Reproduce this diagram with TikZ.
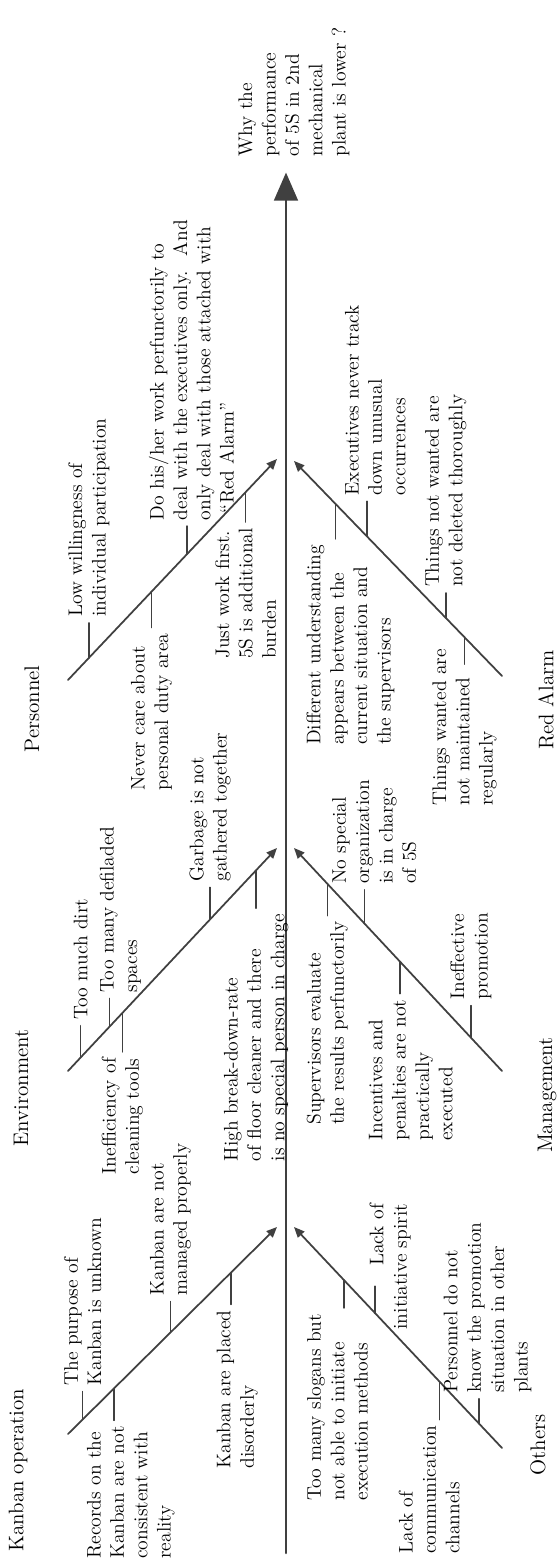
\documentclass[tikz,border=0pt]{standalone}
\usepackage{fontspec}
\usetikzlibrary{arrows.meta}

\begin{document}
\begin{tikzpicture}[x=0.02cm, y=0.02cm, rotate=90, transform shape,
  line cap=round, line join=round,
  spine/.style={draw=black!75, line width=1.5pt, -{Triangle[length=16pt,width=13.5pt]}},
  bone/.style={draw=black!75, line width=1pt, -{Triangle[length=6pt,width=5pt]}},
  tick/.style={draw=black!75, line width=0.8pt},
  cause/.style={align=left, inner sep=3pt, font=\fontsize{11.2}{13.3}\selectfont},
  group/.style={font=\fontsize{12}{14}\selectfont}]

\useasboundingbox (0,0) rectangle (1565,557);

% spine and effect
\coordinate (tail) at (12,271);
\node[cause, anchor=west] (why) at (1403,263) {Why the\\performance\\of 5S in 2nd\\mechanical\\plant is lower ?};
\draw[spine, shorten >=6pt] (tail) -- (tail -| why.west);

%---------------------------------------------------------------------------------------------------
% Kanban operation
\coordinate (kt) at (131,489);
\coordinate (kj) at (338,280);
\node[group] (kanban) at (95,539) {Kanban operation};
\draw[bone] (kt) -- (kj) coordinate[pos=.07] (k1) coordinate[pos=.22] (k2)
                          coordinate[pos=.49] (k3) coordinate[pos=.78] (k4);
\draw[tick] (k1) -- ++(28,0) node[cause, anchor=west] (kb1) {The purpose of\\Kanban is unknown};
\draw[tick] (k2) -- ++(-32,0) node[cause, anchor=east, yshift=-9.6pt] (kb2) {Records on the\\Kanban are not\\consistent with\\reality};
\draw[tick] (k3) -- ++(31,0) node[cause, anchor=west] (kb3) {Kanban are not\\managed properly};
\draw[tick] (k4) -- ++(-32,0) node[cause, anchor=east, yshift=-3.6pt] (kb4) {Kanban are placed\\disorderly};

% Others
\coordinate (ot) at (117,55);
\coordinate (oj) at (338,263);
\node[group] (others) at (120,19) {Others};
\draw[bone] (ot) -- (oj) coordinate[pos=.11] (o1) coordinate[pos=.30] (o2)
                          coordinate[pos=.61] (o3) coordinate[pos=.76] (o4);
\draw[tick] (o1) -- ++(25,0) node[cause, anchor=west, yshift=-4.8pt] (ob1) {Personnel do not\\know the promotion\\situation in other\\plants};
\draw[tick] (o2) -- ++(-38,0) node[cause, anchor=east, yshift=6pt] (ob2) {Lack of\\communication\\channels};
\draw[tick] (o3) -- ++(27,0) node[cause, align=right, anchor=west, xshift=-28pt, yshift=-8.5pt] (ob3) {Lack of\\initiative spirit};
\draw[tick] (o4) -- ++(-28,0) node[cause, anchor=east, yshift=3.6pt] (ob4) {Too many slogans but\\not able to initiate\\execution methods};

%---------------------------------------------------------------------------------------------------
% Environment
\coordinate (et) at (494,489);
\coordinate (ej) at (717,280);
\node[group] (env) at (477,536) {Environment};
\draw[bone] (et) -- (ej) coordinate[pos=.06] (e1) coordinate[pos=.20] (e2)
                          coordinate[pos=.26] (e3) coordinate[pos=.68] (e4) coordinate[pos=.90] (e5);
\draw[tick] (e1) -- ++(32,0) node[cause, anchor=west] (eb1) {Too much dirt};
\draw[tick] (e2) -- ++(28,0) node[cause, anchor=west, yshift=-6pt] (eb2) {Too many defiladed\\spaces};
\draw[tick] (e3) -- ++(-39,0) node[cause, anchor=east] (eb3) {Inefficiency of\\cleaning tools};
\draw[tick] (e4) -- ++(32,0) node[cause, anchor=west] (eb4) {Garbage is not\\gathered together};
\draw[tick] (e5) -- ++(-38,0) node[cause, anchor=east] (eb5) {High break-down-rate\\of floor cleaner and there\\is no special person in charge};

% Management
\coordinate (mt) at (494,55);
\coordinate (mj) at (717,263);
\node[group] (mgmt) at (470,10) {Management};
\draw[bone] (mt) -- (mj) coordinate[pos=.15] (m1) coordinate[pos=.49] (m2)
                          coordinate[pos=.66] (m3) coordinate[pos=.84] (m4);
\draw[tick] (m1) -- ++(32,0) node[cause, anchor=west] (mb1) {Ineffective\\promotion};
\draw[tick] (m2) -- ++(-32,0) node[cause, anchor=east, yshift=-6pt] (mb2) {Incentives and\\penalties are not\\practically\\executed};
\draw[tick] (m3) -- ++(34,0) node[cause, anchor=west, yshift=-5.4pt] (mb3) {No special\\organization\\is in charge\\of 5S};
\draw[tick] (m4) -- ++(-32,0) node[cause, anchor=east] (mb4) {Supervisors evaluate\\the results perfunctorily};

%---------------------------------------------------------------------------------------------------
% Personnel
\coordinate (pt) at (885,489);
\coordinate (pj) at (1106,280);
\node[group] (pers) at (856,525) {Personnel};
\draw[bone] (pt) -- (pj) coordinate[pos=.10] (p1) coordinate[pos=.40] (p2)
                          coordinate[pos=.57] (p3) coordinate[pos=.85] (p4);
\draw[tick] (p1) -- ++(35,0) node[cause, anchor=west] (pb1) {Low willingness of\\individual participation};
\draw[tick] (p2) -- ++(-36,0) node[cause, anchor=east] (pb2) {Never care about\\personal duty area};
\draw[tick] (p3) -- ++(28,0) node[cause, anchor=west, yshift=-2.5pt] (pb3) {Do his/her work perfunctorily to\\deal with the executives only.~ And\\only deal with those attached with\\\hspace*{4pt}``Red Alarm''};
\draw[tick] (p4) -- ++(-30,0) node[cause, anchor=east] (pb4) {Just work first.\\5S is additional\\burden};

% Red Alarm
\coordinate (rt) at (889,55);
\coordinate (rj) at (1104,263);
\node[group] (alarm) at (865,11) {Red Alarm};
\draw[bone] (rt) -- (rj) coordinate[pos=.18] (r1) coordinate[pos=.27] (r2)
                          coordinate[pos=.65] (r3) coordinate[pos=.80] (r4);
\draw[tick] (r1) -- ++(-27,0) node[cause, anchor=east, xshift=12pt] (rb1) {Things wanted are\\not maintained\\regularly};
\draw[tick] (r2) -- ++(25,0) node[cause, anchor=west] (rb2) {Things not wanted are\\not deleted thoroughly};
\draw[tick] (r3) -- ++(35,0) node[cause, anchor=west, yshift=-4.8pt] (rb3) {Executives never track\\down unusual\\occurrences};
\draw[tick] (r4) -- ++(-35,0) node[cause, anchor=east, yshift=-8.5pt] (rb4) {Different understanding\\appears between the\\current situation and\\the supervisors};

\end{tikzpicture}
\end{document}
